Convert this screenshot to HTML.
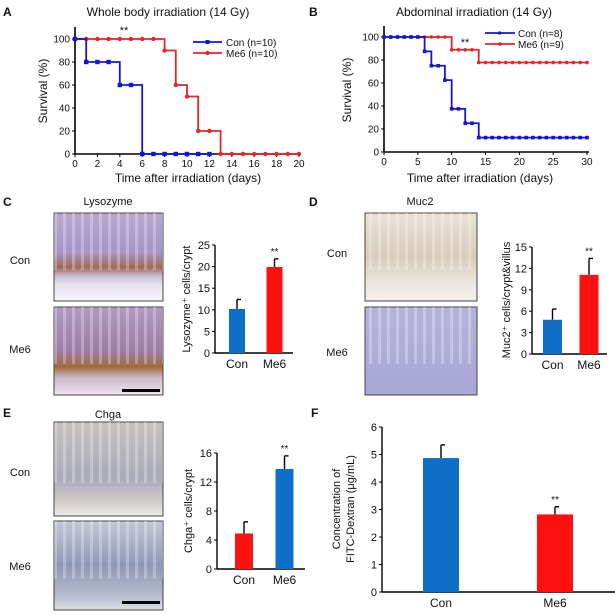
<!DOCTYPE html>
<html><head><meta charset="utf-8"><style>
body{margin:0;background:#fff}
svg{display:block;font-family:"Liberation Sans",Arial,sans-serif}
</style></head><body>
<svg id="fig" width="615" height="615" viewBox="0 0 615 615">
<defs>
<linearGradient id="gLysCon" x1="0" y1="0" x2="0" y2="1">
<stop offset="0" stop-color="#b6a9cf"/><stop offset="0.45" stop-color="#a594c6"/><stop offset="0.62" stop-color="#a06a55"/><stop offset="0.72" stop-color="#c8c0d8"/><stop offset="0.82" stop-color="#e6e2ec"/><stop offset="1" stop-color="#f6f5f8"/></linearGradient>
<linearGradient id="gLysMe6" x1="0" y1="0" x2="0" y2="1">
<stop offset="0" stop-color="#b19ac0"/><stop offset="0.5" stop-color="#9d7da8"/><stop offset="0.68" stop-color="#a26a3a"/><stop offset="0.8" stop-color="#c9b8c9"/><stop offset="1" stop-color="#ece6ee"/></linearGradient>
<linearGradient id="gMucCon" x1="0" y1="0" x2="0" y2="1">
<stop offset="0" stop-color="#e9e2d6"/><stop offset="0.5" stop-color="#d8cbb8"/><stop offset="0.8" stop-color="#ece7e0"/><stop offset="1" stop-color="#f2efea"/></linearGradient>
<linearGradient id="gMucMe6" x1="0" y1="0" x2="0" y2="1">
<stop offset="0" stop-color="#b6b3d8"/><stop offset="1" stop-color="#a7a6d6"/></linearGradient>
<linearGradient id="gChgCon" x1="0" y1="0" x2="0" y2="1">
<stop offset="0" stop-color="#c6c2bf"/><stop offset="0.6" stop-color="#a9aab8"/><stop offset="0.85" stop-color="#d2cdc9"/><stop offset="1" stop-color="#ecebe8"/></linearGradient>
<linearGradient id="gChgMe6" x1="0" y1="0" x2="0" y2="1">
<stop offset="0" stop-color="#c4c6d6"/><stop offset="0.5" stop-color="#8f98b8"/><stop offset="0.85" stop-color="#b8bccc"/><stop offset="1" stop-color="#e0e0e6"/></linearGradient>
<pattern id="pStripe" width="9" height="10" patternUnits="userSpaceOnUse"><rect x="0" width="3" height="10" fill="rgba(255,255,255,0.28)"/></pattern>
</defs>
<g id="root"></g>
</svg>
<script>
// ---------- data ----------
const daysA = [0,1,2,3,4,5,6,7,8,9,10,11,12,13,14,15,16,17,18,19,20];
const conA = [100,80,80,80,60,60,0,0,0,0,0,0,0];
const me6A = [100,100,100,100,100,100,100,100,90,60,50,20,20,0,0,0,0,0,0,0,0];
const conB = [100,100,100,100,100,100,87.5,75,75,62.5,37.5,37.5,25,25,12.5,12.5,12.5,12.5,12.5,12.5,12.5,12.5,12.5,12.5,12.5,12.5,12.5,12.5,12.5,12.5,12.5];
const me6B = [100,100,100,100,100,100,100,100,100,100,88.9,88.9,88.9,88.9,77.8,77.8,77.8,77.8,77.8,77.8,77.8,77.8,77.8,77.8,77.8,77.8,77.8,77.8,77.8,77.8,77.8];
const survTicksY = [0,20,40,60,80,100];
const ticksXA = [0,2,4,6,8,10,12,14,16,18,20];
const ticksXB = [0,5,10,15,20,25,30];
const barCats = ["Con","Me6"];
const lysVals = [10.2,19.9]; const lysErr = [2.2,1.9]; const lysTicks = [0,5,10,15,20,25];
const mucVals = [4.8,11.1]; const mucErr = [1.5,2.3]; const mucTicks = [0,3,6,9,12,15];
const chgVals = [4.9,13.8]; const chgErr = [1.6,1.8]; const chgTicks = [0,4,8,12,16];
const fitcVals = [4.87,2.82]; const fitcErr = [0.48,0.28]; const fitcTicks = [0,1,2,3,4,5,6];

const NS="http://www.w3.org/2000/svg";
const root=document.getElementById('root');
function el(tag,attrs,parent,txt){const e=document.createElementNS(NS,tag);for(const k in attrs)e.setAttribute(k,attrs[k]);if(txt!==undefined)e.textContent=txt;(parent||root).appendChild(e);return e;}
function text(x,y,s,size,anchor,name,extra){const t=el('text',Object.assign({x:x,y:y,'font-size':size,'text-anchor':anchor||'middle',fill:'#111'},extra||{}),root,s);


return t;}

// ---------- survival panels ----------
function survival(o){
  const g=el('g',{});
  
  
  const X=d=>o.x0+d*(o.x1-o.x0)/o.xmax, Y=v=>o.y0-v*(o.y0-o.y100)/100;
  el('line',{x1:o.x0,y1:o.ytop,x2:o.x0,y2:o.y0,stroke:'#000','stroke-width':1.6},g);
  el('line',{x1:o.x0,y1:o.y0,x2:o.x1+2,y2:o.y0,stroke:'#000','stroke-width':1.6},g);
  o.ty.forEach(v=>{el('line',{x1:o.x0-3,y1:Y(v),x2:o.x0,y2:Y(v),stroke:'#000'},g);
    const t=text(o.x0-5,Y(v)+3.5,String(v),10,'end','y-tick-label');});
  o.tx.forEach(v=>{el('line',{x1:X(v),y1:o.y0,x2:X(v),y2:o.y0+3,stroke:'#000'},g);
    text(X(v),o.y0+13,String(v),10,'middle','x-tick-label');});
  [[o.me6,'#e8232a','circle','me6-curve'],[o.con,'#1515d6','rect','con-curve']].forEach(([s,c,m,n])=>{
    let d='M'+X(0)+','+Y(s[0]);for(let i=1;i<s.length;i++)d+=' H'+X(i)+' V'+Y(s[i]);
    const p=el('path',{d:d,fill:'none',stroke:c,'stroke-width':1.8},g);
    
    
    s.forEach((v,i)=>{let mk;
      if(m==='circle')mk=el('circle',{cx:X(i),cy:Y(v),r:o.mr,fill:c},g);
      else mk=el('rect',{x:X(i)-o.mr,y:Y(v)-o.mr,width:2*o.mr,height:2*o.mr,fill:c},g);
      
      });
  });
}
survival({name:'panel-a-survival',x0:75,x1:299,xmax:20,y0:154,y100:39,ytop:27,con:conA,me6:me6A,ty:survTicksY,tx:ticksXA,mr:2.2});
survival({name:'panel-b-survival',x0:384,x1:587,xmax:30,y0:152,y100:37,ytop:26,con:conB,me6:me6B,ty:survTicksY,tx:ticksXB,mr:1.8});

text(3,16,'A',12,'start','panel-label-a',{'font-weight':'bold'});
text(168,16,'Whole body irradiation (14 Gy)',12,'middle','panel-a-title');
text(124,34,'**',11,'middle','significance-a');
text(188,182,'Time after irradiation (days)',12,'middle','x-axis-title-a');
text(47,91,'Survival (%)',12,'middle','y-axis-title-a',{transform:'rotate(-90 47 91)'});
el('line',{x1:193,y1:42,x2:222,y2:42,stroke:'#1515d6','stroke-width':1.8});
el('rect',{x:205.5,y:40,width:4,height:4,fill:'#1515d6'});
text(226,46,'Con (n=10)',10,'start','legend-con-a');
el('line',{x1:193,y1:53,x2:222,y2:53,stroke:'#e8232a','stroke-width':1.8});
el('circle',{cx:207.5,cy:53,r:2.2,fill:'#e8232a'});
text(226,57,'Me6 (n=10)',10,'start','legend-me6-a');

text(309,16,'B',12,'start','panel-label-b',{'font-weight':'bold'});
text(474,16,'Abdominal irradiation (14 Gy)',12,'middle','panel-b-title');
text(465,46,'**',11,'middle','significance-b');
text(480,182,'Time after irradiation (days)',12,'middle','x-axis-title-b');
text(351,90,'Survival (%)',12,'middle','y-axis-title-b',{transform:'rotate(-90 351 90)'});
el('line',{x1:485,y1:33,x2:515,y2:33,stroke:'#1515d6','stroke-width':1.8});
el('rect',{x:498,y:31.5,width:3,height:3,fill:'#1515d6'});
text(518,37,'Con (n=8)',10,'start','legend-con-b');
el('line',{x1:485,y1:44,x2:515,y2:44,stroke:'#e8232a','stroke-width':1.8});
el('circle',{cx:500,cy:44,r:1.8,fill:'#e8232a'});
text(518,48,'Me6 (n=9)',10,'start','legend-me6-b');

// ---------- bar charts ----------
function bars(o){
  const g=el('g',{});
  
  
  const max=o.ticks[o.ticks.length-1];
  const Y=v=>o.y0-v*(o.y0-o.ytop)/max;
  el('line',{x1:o.x0,y1:Y(max),x2:o.x0,y2:o.y0,stroke:'#000','stroke-width':1.4},g);
  el('line',{x1:o.x0,y1:o.y0,x2:o.xend,y2:o.y0,stroke:'#000','stroke-width':1.4},g);
  o.ticks.forEach(v=>{el('line',{x1:o.x0-3,y1:Y(v),x2:o.x0,y2:Y(v),stroke:'#000'},g);
    text(o.x0-5,Y(v)+4,String(v),o.fs,'end','y-tick-label');});
  o.vals.forEach((v,i)=>{
    const cx=o.cx[i], w=o.bw;
    const ey=Y(v+o.err[i]);
    el('line',{x1:cx,y1:Y(v),x2:cx,y2:ey,stroke:'#000','stroke-width':1.4},g);
    el('line',{x1:cx,y1:ey,x2:cx+4,y2:ey,stroke:'#000','stroke-width':1.4},g);
    const r=el('rect',{x:cx-w/2,y:Y(v),width:w,height:o.y0-Y(v),fill:o.colors[i]},g);
    
    
    text(cx,o.y0+15,barCats[i],o.fs+1,'middle','x-category-label');
    if(i===1) text(cx,ey-4,'**',10,'middle','significance');
  });
}
const BLUE='#0f6fc6', RED='#ff1010';
bars({name:'panel-c-bars',x0:215,y0:353,ytop:245,xend:293,ticks:lysTicks,vals:lysVals,err:lysErr,cx:[237,274.5],bw:16,colors:[BLUE,RED],fs:11});
bars({name:'panel-d-bars',x0:532,y0:354,ytop:247,xend:607,ticks:mucTicks,vals:mucVals,err:mucErr,cx:[552.5,589],bw:19,colors:[BLUE,RED],fs:11});
bars({name:'panel-e-bars',x0:217,y0:569,ytop:453,xend:305,ticks:chgTicks,vals:chgVals,err:chgErr,cx:[244,284.5],bw:18,colors:[RED,BLUE],fs:11});
bars({name:'panel-f-bars',x0:382,y0:592,ytop:427,xend:615,ticks:fitcTicks,vals:fitcVals,err:fitcErr,cx:[441,555],bw:36,colors:[BLUE,RED],fs:11});

text(190,299,'Lysozyme⁺ cells/crypt',11,'middle','y-axis-title-c',{transform:'rotate(-90 190 299)'});
text(510,300,'Muc2⁺ cells/crypt&villus',11,'middle','y-axis-title-d',{transform:'rotate(-90 510 300)'});
text(192,511,'Chga⁺ cells/crypt',11,'middle','y-axis-title-e',{transform:'rotate(-90 192 511)'});
text(340,509,'Concentration of',11,'middle','y-axis-title-f-line1',{transform:'rotate(-90 340 509)'});
text(354,509,'FITC-Dextran (μg/mL)',11,'middle','y-axis-title-f-line2',{transform:'rotate(-90 354 509)'});

// ---------- micrographs ----------
function micro(x,y,w,h,fill,name){
  const r=el('rect',{x:x,y:y,width:w,height:h,fill:fill,stroke:'#444','stroke-width':1});
  
  
  el('rect',{x:x,y:y,width:w,height:h*0.65,fill:'url(#pStripe)'});
}
micro(54,213,109,88,'url(#gLysCon)','lysozyme-con-image');
micro(54,307,109,88,'url(#gLysMe6)','lysozyme-me6-image');
el('rect',{x:122,y:389,width:38,height:3,fill:'#000'});
micro(365,213,112,88,'url(#gMucCon)','muc2-con-image');
micro(365,307,112,88,'url(#gMucMe6)','muc2-me6-image');
micro(54,422,109,94,'url(#gChgCon)','chga-con-image');
micro(54,521,109,89,'url(#gChgMe6)','chga-me6-image');
el('rect',{x:122,y:601,width:38,height:3,fill:'#000'});

text(3,206,'C',12,'start','panel-label-c',{'font-weight':'bold'});
text(108,205,'Lysozyme',11,'middle','panel-c-title');
text(20,264,'Con',11,'middle','row-label-con-c');
text(20,353,'Me6',11,'middle','row-label-me6-c');
text(309,206,'D',12,'start','panel-label-d',{'font-weight':'bold'});
text(420,205,'Muc2',11,'middle','panel-d-title');
text(337,257,'Con',11,'middle','row-label-con-d');
text(337,356,'Me6',11,'middle','row-label-me6-d');
text(3,417,'E',12,'start','panel-label-e',{'font-weight':'bold'});
text(108,418,'Chga',11,'middle','panel-e-title');
text(20,476,'Con',11,'middle','row-label-con-e');
text(20,570,'Me6',11,'middle','row-label-me6-e');
text(311,417,'F',12,'start','panel-label-f',{'font-weight':'bold'});
</script>
</body></html>
